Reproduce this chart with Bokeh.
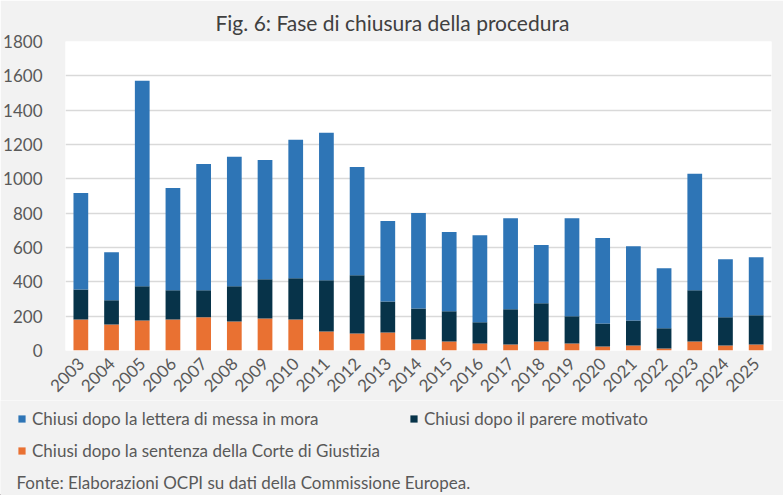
import math
from bokeh.plotting import figure
from bokeh.layouts import column, row
from bokeh.models import (FactorRange, Range1d, Legend, LegendItem, Label,
                          SingleIntervalTicker, ColumnDataSource)
from bokeh.embed import file_html
from bokeh.resources import INLINE

years = [str(y) for y in range(2003, 2026)]
sentenza = [181, 152, 175, 181, 193, 169, 187, 181, 111, 99, 105, 64, 53, 41, 35, 53, 41, 23, 29, 12, 53, 29, 35]
parere = [175, 140, 199, 170, 158, 205, 228, 240, 298, 339, 181, 181, 175, 123, 205, 222, 158, 135, 146, 117, 298, 164, 170]
lettera = [562, 281, 1198, 596, 736, 754, 695, 806, 859, 631, 468, 556, 462, 508, 531, 339, 572, 497, 433, 350, 678, 339, 338]

series_labels = ["Chiusi dopo la lettera di messa in mora",
                 "Chiusi dopo il parere motivato",
                 "Chiusi dopo la sentenza della Corte di Giustizia"]
title_text = "Fig. 6: Fase di chiusura della procedura"
source_text = "Fonte: Elaborazioni OCPI su dati della Commissione Europea."

C_LET = "#2E75B6"
C_PAR = "#073349"
C_SEN = "#E97132"
BG = "#f2f2f2"
FONT = "Lato"

src = ColumnDataSource(dict(years=years, sentenza=sentenza, parere=parere, lettera=lettera))

W = 783
p = figure(width=W, height=400, x_range=FactorRange(*years), y_range=Range1d(0, 1800),
           output_backend="svg", toolbar_location=None, title=title_text,
           min_border_left=59, min_border_right=12, min_border_top=41, min_border_bottom=50)
p.border_fill_color = BG
p.background_fill_color = "white"
p.outline_line_color = None
p.title.text_font = FONT
p.title.text_font_size = "21px"
p.title.text_font_style = "normal"
p.title.text_color = "#404040"
p.title.align = "left"
p.title.offset = 150
p.title.standoff = 13

rs = p.vbar_stack(["sentenza", "parere", "lettera"], x="years", width=0.48,
                  color=[C_SEN, C_PAR, C_LET], line_color=None, source=src)

p.yaxis.ticker = SingleIntervalTicker(interval=200)
for ax in (p.xaxis, p.yaxis):
    ax.axis_line_color = None
    ax.major_tick_line_color = None
    ax.minor_tick_line_color = None
    ax.major_label_text_font = FONT
    ax.major_label_text_font_size = "17px"
    ax.major_label_text_color = "#595959"
p.yaxis.major_label_standoff = 17
p.xaxis.major_label_orientation = math.pi / 4
p.xaxis.major_label_standoff = 4
p.xgrid.grid_line_color = None
p.ygrid.grid_line_color = "#d9d9d9"
p.ygrid.grid_line_width = 1.5

# lower panel: legend and source note
HB = 95
q = figure(width=W, height=HB, x_range=Range1d(0, W), y_range=Range1d(0, HB),
           output_backend="svg", toolbar_location=None,
           x_axis_location=None, y_axis_location=None,
           min_border_left=0, min_border_right=0, min_border_top=0, min_border_bottom=0)
q.border_fill_color = BG
q.background_fill_color = BG
q.outline_line_color = None
q.grid.grid_line_color = None
colors = [C_LET, C_PAR, C_SEN]
dummies = [q.vbar(x=[-100], top=[1], width=1, color=c, line_color=None) for c in colors]

legend = Legend(items=[LegendItem(label=lab, renderers=[r]) for lab, r in zip(series_labels, dummies)],
                location=(17, 34), orientation="horizontal", ncols=2)
legend.label_text_font = FONT
legend.label_text_font_size = "17px"
legend.label_text_color = "#595959"
legend.glyph_width = 9
legend.glyph_height = 9
legend.label_standoff = 6
legend.spacing = 11
legend.label_width = 366
legend.padding = 0
legend.margin = 0
legend.border_line_color = None
legend.background_fill_alpha = 0
q.add_layout(legend, "center")

q.add_layout(Label(x=16, y=13, text=source_text,
                   text_font=FONT, text_font_size="17px", text_color="#595959",
                   text_align="left", text_baseline="middle"))

layout = column(p, row(q), spacing=0)
html = file_html(layout, INLINE)
html = html.replace("<body>", '<body style="background-color:#f2f2f2;">', 1)
open("out.html", "w").write(html)
